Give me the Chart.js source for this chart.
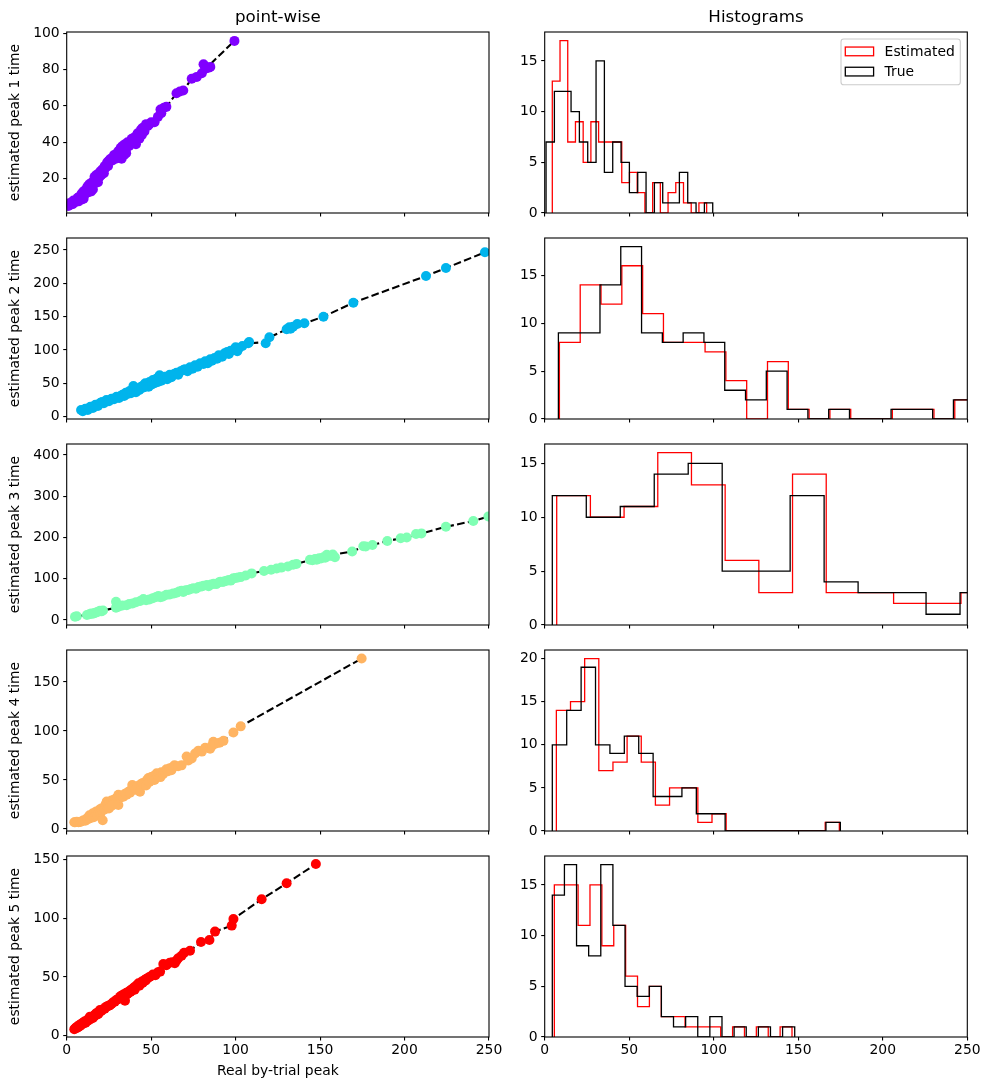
<!DOCTYPE html>
<html>
<head>
<meta charset="utf-8">
<script src="https://cdn.jsdelivr.net/npm/chart.js@4.4.0/dist/chart.umd.min.js"></script>
<style>
html,body{margin:0;padding:0;background:#fff;}
body{width:989px;height:1090px;position:relative;overflow:hidden;}
</style>
</head>
<body>
<script>
// ---------------- DATA ----------------
const columnTitles = ['point-wise', 'Histograms'];
const xAxisLabel = 'Real by-trial peak';
const yAxisLabels = ['estimated peak 1 time','estimated peak 2 time','estimated peak 3 time','estimated peak 4 time','estimated peak 5 time'];
const legendLabels = ['Estimated', 'True'];

const xTicks = [0, 50, 100, 150, 200, 250];
const scatterYTicks = [[20,40,60,80,100],[0,50,100,150,200,250],[0,100,200,300,400],[0,50,100,150],[0,50,100,150]];
const histYTicks = [[0,5,10,15],[0,5,10,15],[0,5,10,15],[0,5,10,15,20],[0,5,10,15]];

// scatter: real (x) vs estimated (y) peak times
const peak1True = [1,1.5,2,3,3.5,4,5, 6,6.5,7,7.5,8,8.5,9,9,9.5,10,10.5,10, 11,11.5,12,12.5,13,13.5,14,14.5,15,15,15.5,12, 16,16.5,17,17.5,18,18.5,19,19.5,20,20.5, 21,22,22.5,23,24,24.5,25, 26,27,28,29,30, 30.5,31,31.5,32,32,32.5,33,33,33.5,34,34,34.5,35,35,35.2, 36,37,38.5,40, 40.5,41,42,43,44,44.5,45, 46,47,48,49,50, 52,54, 55.5,56,57.5,59, 65,67,69, 74, 77, 80,81,82,84, 85, 99.3];
const peak1Est  = [5,6.5,5.5,7,6,8,7, 8,9.5,7.5,10,9,11,8.5,12,10,13,11,9, 12,14,13,16,12.5,17,15,13,18,16,14,15, 17,21,19,22,20,18,23,21,24,22, 25,23,27,26,29,27,30, 31,30,33,31,34, 35,33,36,34,37,31,35,38,36,33,37,39,36,38,34, 40,38,42,41, 43,39,45,42,47,44,48, 46,50,49,50,51, 51,54, 58,56,59,59.5, 67,68,68.5, 75, 76, 78,83,80.5,81, 81.5, 95.8];

const peak2True = [8.5,9.5,11,12.5,14,15.5,17,18.5,20, 21,22,23.5,25,26.5,28,29.5,31,32, 33,34,35,36,37,38,38.5,39.5,40,41,42,43,44,44.5, 45.5,46,46.5,47,48,48.5,49,50,50.5,51,52,52.5,53,54,54.5,55,56,57, 58,59.5,61,62,63.5,65,66,67.5,69, 70,71.5,73,74.5,76,77.5,79,81, 82,83.5,85,86,87.5,89,90,92,93.5, 95,96,97,99,100,101,102,104, 107.5,108,117.8, 120,130.2, 131.8,132.5,134,136.5,140.7, 152, 169.7, 212.7, 224.5, 247.6,253];
const peak2Est  = [10,8,12,10,15,13,18,16,21, 22,20,25,23,27,26,30,28,31, 33,31,36,34,38,35,40,46,38,36.5,42,40,45,43, 47,44,50,46,49,45,52,48,51,55,50,53,57,52,56,62,54,58, 60,56,63,59,64,66,63,68,70, 71,68,74,72,77,75,80,79, 83,80,86,84,88,87,92,90,95, 97,94,99,100,104,98,103,106, 110,112,110, 119,131, 134,132,135,139,140, 150, 171, 211, 223, 246.5,252];

const peak3True = [4.9,6,12,13.5,14.5,15.5,16.5,17.5,18.5,19.7,20.5,21.5, 29.2,29.2,30,31,33,35.5,37,39,41,43.5, 45.4,47,49,51,53,54.3,55.5,57,59,61,63, 65,66.5,68,69,70.5,72,73.5,75,76.5,78,79.5,81,83,84, 85.5,87,88.5,90,91,92.5,93.5,94.7,96,97,98,98.7,100,101.5,103, 106,109.5,116.8,121,124.3, 127,131,134,136,144, 145.5,147,148,149.5,150.5,152,153,154,155,156.5,158.8,157.5, 169,175.6,177,181, 189.8,197.7,201.3, 206.8,210,224.5, 240.7, 249.6,255,262, 300, 406];
const peak3Est  = [8,9,12,14,16,15,17,18,20,22.6,21,23, 30,44,36,33,35,36,39,40,43,46, 51,48,50,53,56,58,55,57,61,62,64, 66,69,71,68,72,73,75,77,76,80,81,83,85,82, 86,88,87,91,93,92,94,95,97,95.5,99,101,102,103,104, 108,113,119,122,125, 127,130,134,136,146, 145,148,146,150,149,152,151,158,155,156,152,159, 166,179,178,182, 191.5,198,200, 208.5,210,226, 240, 251,256,260, 298, 405.5];

const peak4True = [4.5,5,6,7,8,9,10,11,12,12.5, 13.5,14,15,15.5,16,17,17.5,18,19,19.5,20,20.5,21,21.3, 22,22.5,23,23.7,24,24.5,25,25.5,26,26.5,27,27.5,28,28.5,29,29.5,29.8,25,27, 30.6,30.6,31.5,32.5,33.5,34.5,35.5,36.5,37.5,38.3, 38.8,40,41,42,43.4,44,45,46,47, 47.5,48.4,49,50,50.5,51.5,52,53.3,54,55,55.5, 56,57,58.2,59,60,61,62,63.1,63.8, 66,68,71,72, 74,76,78,80, 82,84.9,86,86.8,88, 90.5,92.8, 98.7,103, 174.6];
const peak4Est  = [7,6.9,7.5,7,7.2,8,9,8.5,11,10, 14,11,13,16,12,15,18,14,17,20,16,21,19,9, 22,20,25,28,23,26,24,27,25,29,26,28,30,27,31,29,32,21,24, 24.5,35,32,34,33,36,35,38,37,40, 45,42,40,44,38,46,47,45,44.5, 50,52,48,53,51,54,50,57,55,56,53, 58,56,58.5,61,59,62,60,63.6,65, 64,65,74,70, 72,77,80,79, 83,82,85,89,87, 88,90, 98.6,104.8, 174];

const peak5True = [4.5,5,5.5,6,6.5,7,7.5,8,8.5,9,9.5,10,10.5,11.2, 12,12.3,12.8,13.2,13.8,14,14.5,15,15.5,16,16.3,16.8,17,17.5,18,18.3,18.7, 19.2,19.7,20.5,21.5,22.5,23.3,24,25,25.6, 26.5,27.5,28.5,29.5,30.5,31.6,32.2,33, 33.5,34,34.5,35,35.5,36,36.3,36.8,37.2,37.8,38.2,38.7,39,39.5,39.8,40,40.2, 40.8,41.8,42.5,43,43.8,44.5,45,45.8,46.3,46.8,47.2, 48.5,49.3,51,52.5,54, 55.3,57.2,59,61, 62.5,64,65,66,68, 69.5,73, 79.5, 84.5,87.8, 97.7,98.7, 115.4, 130.2, 147.5];
const peak5Est  = [5.5,6.2,7,6.5,8,7.5,9,8.5,10,9.5,11,10.5,12,11, 12.5,13.5,13,14.5,16.2,14,15.5,16,15,17,16.5,18,17.5,19,18,19.5,18.5, 20,21.8,21,22.5,23,24.5,25,25.5,26, 27,28.5,29,30.5,31,33,34,33.5, 35,34.5,29.8,36,36.6,35.5,37,36.5,38,37.5,39,38.5,40,39.5,41,40.5,39, 42,43,44.5,42.5,44,46,45,46.5,47.5,47,48.5, 49.5,50.2,52,51.5,54, 54.5,61,60,62, 62.5,61.6,64,65.8,68, 70.6,72.3, 79.7, 81.4,88.5, 93.6,99.3, 116, 129.6, 146];

const trueSeries = [peak1True, peak2True, peak3True, peak4True, peak5True];
const estSeries  = [peak1Est, peak2Est, peak3Est, peak4Est, peak5Est];

// histograms: 20 equal bins over [lo, hi]
const histTrueRange = [[0.8,99.4],[8.1,254.1],[4.5,406.5],[4.5,174.9],[4.5,147.9]];
const histTrueCounts = [
  [7,12,12,10,7,5,15,4,7,5,2,4,0,3,1,1,4,1,0,1],
  [9,9,14,18,9,8,9,8,3,2,5,1,0,1,0,0,1,1,0,2],
  [12,10,11,14,15,5,5,12,4,3,3,1,3,1,0,0,0,0,0,1],
  [10,14,19,10,9,11,9,4,4,5,2,2,0,0,0,0,0,0,0,1],
  [14,17,9,8,17,11,5,4,5,2,1,2,0,2,0,1,0,1,0,1]
];
const histEstRange = [[4.5,95.8],[8.7,254.9],[7.1,405.7],[6.9,174.3],[5.7,146.3]];
const histEstCounts = [
  [13,17,7,9,5,9,7,7,7,3,4,2,0,3,0,2,3,1,0,1],
  [8,14,12,16,11,8,8,7,4,0,6,1,0,1,0,0,1,1,0,2],
  [12,10,11,16,13,6,3,14,3,3,2,2,3,1,0,0,0,0,0,1],
  [14,15,20,7,8,11,8,3,5,5,1,2,0,0,0,0,0,0,0,1],
  [15,15,11,15,9,11,6,3,5,2,2,1,1,1,0,1,0,1,0,1]
];

// ---------------- STYLE / LAYOUT ----------------
const rowColors = ['rgb(128,0,255)','rgb(0,180,236)','rgb(128,255,180)','rgb(255,180,98)','rgb(255,0,0)'];
const scatterYRange = [[1.1,100.7],[-3.5,268],[-12.1,426.7],[-2,182.7],[-1.1,152.8]];
const histYRange = [[0,17.85],[0,18.9],[0,16.8],[0,21],[0,17.85]];
const rowTop = [32, 238, 444, 650, 856];
const AREA_H = 181;

Chart.defaults.font.family = "'DejaVu Sans', sans-serif";
Chart.defaults.font.size = 13.9;
Chart.defaults.color = '#000';
Chart.defaults.animation = false;

const framePlugin = {
  id: 'frame',
  afterDraw(chart) {
    const {ctx, chartArea: a} = chart;
    ctx.save();
    ctx.strokeStyle = '#000';
    ctx.lineWidth = 1.1;
    ctx.strokeRect(a.left, a.top, a.right - a.left, a.bottom - a.top);
    ctx.restore();
  }
};

const legendPlugin = {
  id: 'histLegend',
  afterDraw(chart) {
    const {ctx, chartArea: a} = chart;
    const w = 119.3, h = 45.7, rr = 2.8;
    const x0 = a.right - 7 - w, y0 = a.top + 7;
    ctx.save();
    ctx.beginPath();
    ctx.moveTo(x0 + rr, y0);
    ctx.arcTo(x0 + w, y0, x0 + w, y0 + h, rr);
    ctx.arcTo(x0 + w, y0 + h, x0, y0 + h, rr);
    ctx.arcTo(x0, y0 + h, x0, y0, rr);
    ctx.arcTo(x0, y0, x0 + w, y0, rr);
    ctx.closePath();
    ctx.fillStyle = 'rgba(255,255,255,0.8)';
    ctx.fill();
    ctx.strokeStyle = '#cccccc';
    ctx.lineWidth = 1.1;
    ctx.stroke();
    chart.data.datasets.forEach((ds, i) => {
      const cy = y0 + 12.4 + i * 20.2;
      ctx.strokeStyle = ds.borderColor;
      ctx.lineWidth = 1.3;
      ctx.strokeRect(x0 + 4.3, cy - 4.35, 28.3, 8.7);
      ctx.fillStyle = '#000';
      ctx.font = "13.9px 'DejaVu Sans'";
      ctx.textBaseline = 'middle';
      ctx.textAlign = 'left';
      ctx.fillText(ds.label, x0 + 43.6, cy + 0.5);
    });
    ctx.restore();
  }
};

function stepPoints(range, counts) {
  const n = counts.length, w = (range[1] - range[0]) / n;
  const pts = [{x: range[0], y: 0}];
  counts.forEach((c, i) => {
    pts.push({x: range[0] + i * w, y: c});
    pts.push({x: range[0] + (i + 1) * w, y: c});
  });
  pts.push({x: range[1], y: 0});
  return pts;
}

function tickGrid() {
  return {display: true, drawOnChartArea: false, drawTicks: true, tickLength: 3.5, color: '#000', lineWidth: 1.1};
}

function build(r, c) {
  const isLeft = c === 0, isBottom = r === 4, isTop = r === 0;
  const cLeft = isLeft ? 0 : 500;
  const cW = isLeft ? 520 : 489;
  const yW = isLeft ? 66.7 : 44.7;
  const padR = isLeft ? (520 - 489) : (489 - 467.3);
  const cTop = isTop ? 0 : rowTop[r] - 12;
  const padT = isTop ? 0 : 12;
  const xH = isBottom ? (isLeft ? 52 : 30) : 10;
  const cH = (rowTop[r] - cTop) + AREA_H + xH;

  const cv = document.createElement('canvas');
  cv.width = cW; cv.height = cH;
  cv.style.cssText = `position:absolute;left:${cLeft}px;top:${cTop}px;width:${cW}px;height:${cH}px;`;
  document.body.appendChild(cv);

  let datasets, yRange, yTicks;
  if (isLeft) {
    const xs = trueSeries[r], ys = estSeries[r];
    const pts = xs.map((x, i) => ({x, y: ys[i]}));
    const sx = [...xs].sort((a, b) => a - b), sy = [...ys].sort((a, b) => a - b);
    const linePts = sx.map((x, i) => ({x, y: sy[i]}));
    datasets = [
      {type: 'scatter', data: pts, backgroundColor: rowColors[r], borderWidth: 0, pointRadius: 5, pointHoverRadius: 5, clip: 0, order: 0},
      {type: 'line', data: linePts, borderColor: '#000', borderWidth: 2.08, borderDash: [7.7, 3.3], pointRadius: 0, fill: false, tension: 0, order: 1}
    ];
    yRange = scatterYRange[r]; yTicks = scatterYTicks[r];
  } else {
    datasets = [
      {type: 'line', label: legendLabels[0], data: stepPoints(histEstRange[r], histEstCounts[r]), borderColor: '#ff0000', borderWidth: 1.3, pointRadius: 0, fill: false, tension: 0, order: 1},
      {type: 'line', label: legendLabels[1], data: stepPoints(histTrueRange[r], histTrueCounts[r]), borderColor: '#000000', borderWidth: 1.3, pointRadius: 0, fill: false, tension: 0, order: 0}
    ];
    yRange = histYRange[r]; yTicks = histYTicks[r];
  }

  const plugins = [framePlugin];
  if (isTop && !isLeft) plugins.push(legendPlugin);

  new Chart(cv, {
    type: 'scatter',
    data: {datasets},
    plugins,
    options: {
      responsive: false,
      animation: false,
      events: [],
      layout: {padding: {top: padT, right: padR, bottom: 0, left: 0}},
      plugins: {
        legend: {display: false},
        tooltip: {enabled: false},
        title: isTop ? {display: true, fullSize: false, text: columnTitles[c], color: '#000',
                        font: {size: 16.7, weight: 'normal'}, padding: {top: 8, bottom: 3.96}} : {display: false}
      },
      scales: {
        x: {
          type: 'linear', min: 0, max: 250,
          afterBuildTicks: s => { s.ticks = xTicks.map(v => ({value: v})); },
          afterFit: s => { s.height = xH; s.paddingLeft = 0; s.paddingRight = 0; },
          grid: tickGrid(), border: {display: false},
          ticks: {display: isBottom, padding: 1.5, maxRotation: 0, autoSkip: false, color: '#000'},
          title: (isBottom && isLeft) ? {display: true, text: xAxisLabel, color: '#000', padding: {top: 0, bottom: 9.7}} : {display: false}
        },
        y: {
          type: 'linear', min: yRange[0], max: yRange[1],
          afterBuildTicks: s => { s.ticks = yTicks.map(v => ({value: v})); },
          afterFit: s => { s.width = yW; s.paddingTop = 0; s.paddingBottom = 0; },
          grid: tickGrid(), border: {display: false},
          ticks: {padding: 3.5, color: '#000', autoSkip: false},
          title: isLeft ? {display: true, text: yAxisLabels[r], color: '#000', padding: {top: 7.5, bottom: 0}} : {display: false}
        }
      }
    }
  });
}

for (let r = 0; r < 5; r++) { build(r, 0); build(r, 1); }
</script>
</body>
</html>
